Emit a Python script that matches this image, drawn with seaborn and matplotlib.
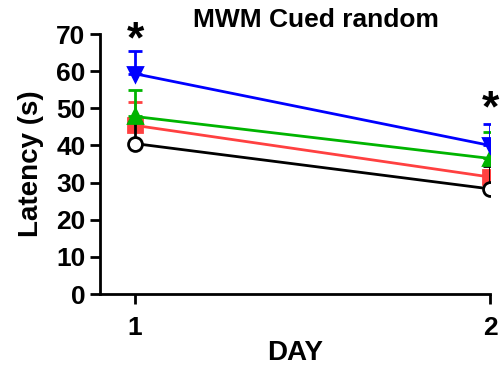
import numpy as np
import pandas as pd
import matplotlib
matplotlib.use("Agg")
import matplotlib.pyplot as plt
import seaborn as sns

days = [1, 2]
groups = ["Black", "Red", "Green", "Blue"]
black_mean = [40.5, 28.3]
black_err = [5.9, 6.2]
red_mean = [45.4, 31.5]
red_err = [6.4, 5.0]
green_mean = [47.8, 36.5]
green_err = [7.0, 7.2]
blue_mean = [59.3, 40.0]
blue_err = [6.0, 5.8]
sig_days = [1, 2]
sig_y = [68.1, 49.6]
yticks = [0, 10, 20, 30, 40, 50, 60, 70]

sns.set_theme(style="ticks")
plt.rcParams['font.family'] = ['Liberation Sans', 'DejaVu Sans']
plt.rcParams['font.weight'] = 'bold'
for k in ["text.color", "axes.labelcolor", "xtick.color", "ytick.color", "axes.edgecolor"]:
    plt.rcParams[k] = "black"

means = {"Black": black_mean, "Red": red_mean, "Green": green_mean, "Blue": blue_mean}
errs = {"Black": black_err, "Red": red_err, "Green": green_err, "Blue": blue_err}
colors = {"Black": "#000000", "Red": "#ff4040", "Green": "#00b400", "Blue": "#0000ff"}
markers = {"Black": "o", "Red": "s", "Green": "^", "Blue": "v"}
faces = {"Black": "white", "Red": "#ff4040", "Green": "#00b400", "Blue": "#0000ff"}
zorders = {"Red": 3, "Black": 4, "Green": 5, "Blue": 6}

rows = []
for g in groups:
    for d, m in zip(days, means[g]):
        rows.append({"DAY": d, "group": g, "Latency": m})
df = pd.DataFrame(rows)

fig = plt.figure(figsize=(5, 3.65), dpi=100)
ax = fig.add_axes([0.2, 0.1945, 0.78, 0.7123])

for g in groups:
    sub = df[df.group == g]
    ax.errorbar(sub["DAY"], sub["Latency"], yerr=[np.zeros(2), errs[g]],
                fmt="none", ecolor=colors[g], elinewidth=2, capsize=5,
                capthick=2, zorder=zorders[g] - 0.5)
    sns.lineplot(data=sub, x="DAY", y="Latency", color=colors[g], lw=2,
                 marker=markers[g], markersize=10, markerfacecolor=faces[g],
                 markeredgecolor=colors[g], markeredgewidth=2, ax=ax,
                 zorder=zorders[g], legend=False)

for d, y in zip(sig_days, sig_y):
    ax.text(d, y, "*", ha="center", va="center", fontsize=32,
            fontweight="bold", clip_on=False)

ax.set_xlim(1 - 35 / 355, 2)
ax.set_ylim(0, 70)
ax.set_xticks(days)
ax.set_yticks(yticks)
ax.tick_params(axis="both", width=2, length=7.5, labelsize=19, pad=3)
for lab in ax.get_xticklabels() + ax.get_yticklabels():
    lab.set_fontweight("bold")
ax.tick_params(axis="x", pad=8)
for s in ["top", "right"]:
    ax.spines[s].set_visible(False)
for s in ["left", "bottom"]:
    ax.spines[s].set_linewidth(2)
ax.set_xlabel("DAY", fontsize=20, fontweight="bold", labelpad=0)
ax.set_ylabel("Latency (s)", fontsize=20, fontweight="bold", labelpad=9)
fig.text(0.631, 0.945, "MWM Cued random", ha="center", va="center",
         fontsize=19, fontweight="bold")

fig.savefig("out.png", dpi=100)
